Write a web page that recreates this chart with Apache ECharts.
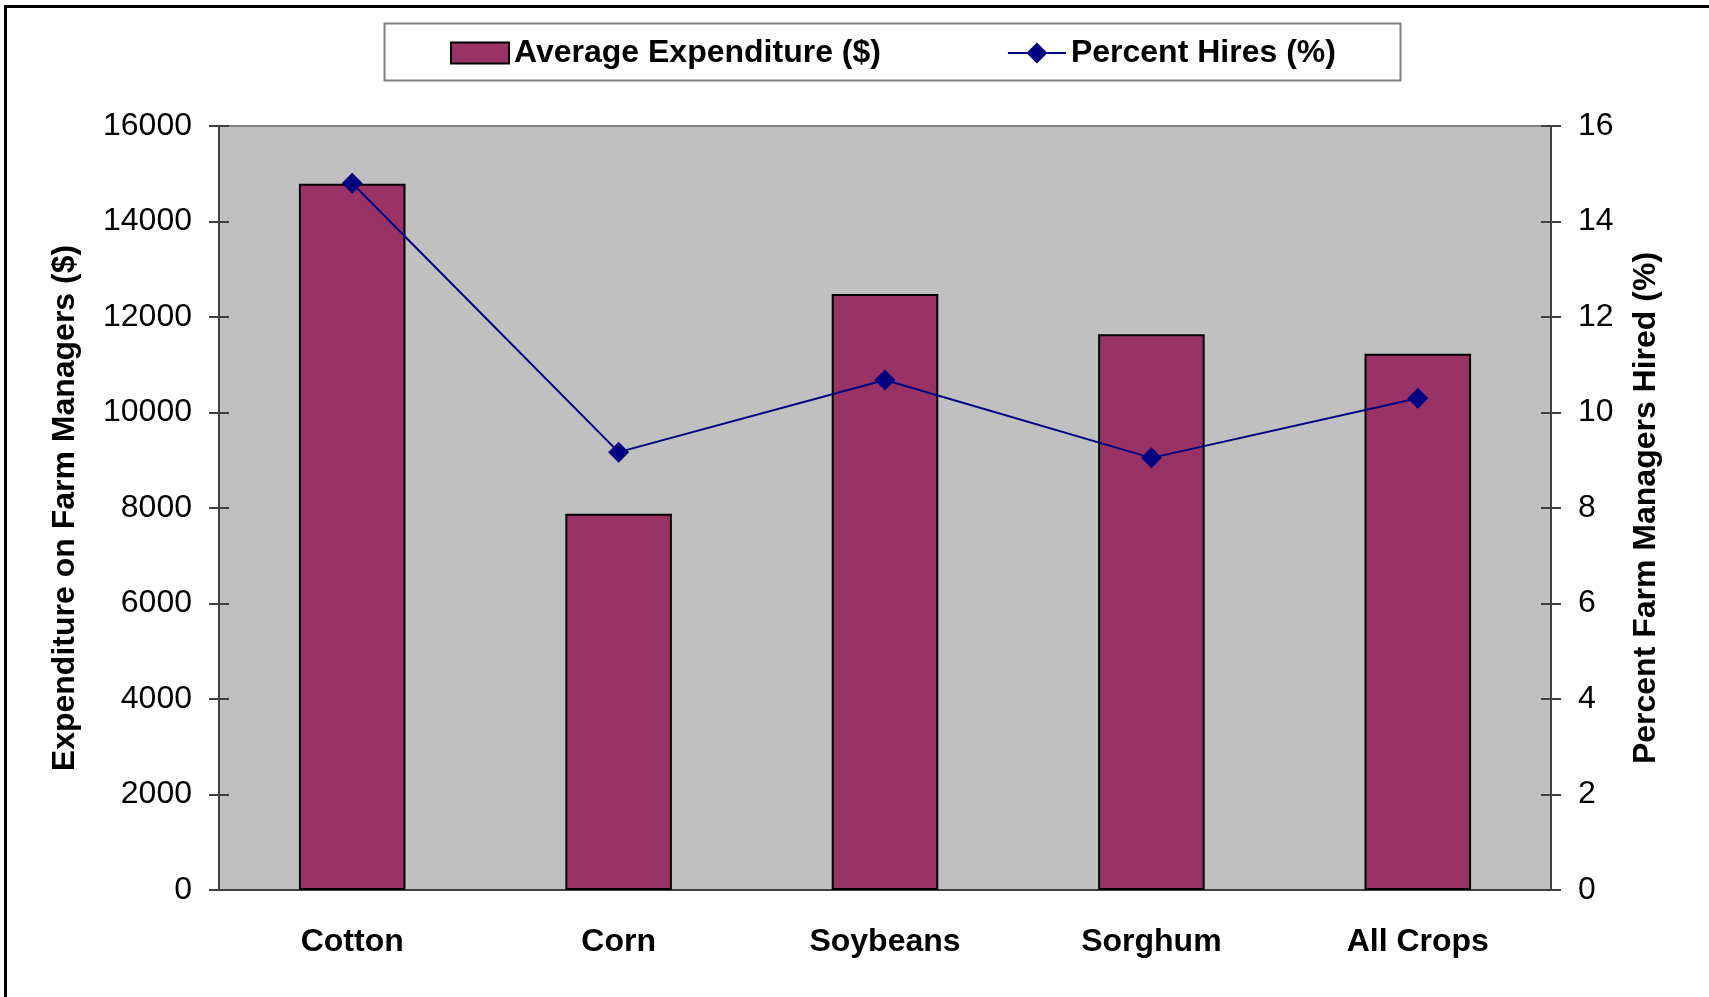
<!DOCTYPE html>
<html>

<head>
    <meta charset="utf-8">
    <title>Farm Managers</title>
    <script src="https://cdn.jsdelivr.net/npm/echarts@6.0.0/dist/echarts.min.js"></script>
    <style>
        body {
            margin: 0;
            background: #ffffff;
        }
    </style>
</head>

<body>
    <div id="main" style="width: 1709px;height:997px;"></div>

    <script type="text/javascript">
        // data
        const crops = ['Cotton', 'Corn', 'Soybeans', 'Sorghum', 'All Crops'];
        const avgExpenditure = [14790, 7880, 12480, 11640, 11230];
        const percentHires = [14.8, 9.17, 10.68, 9.05, 10.3];

        const font = '"Liberation Sans", Arial, sans-serif';
        const axisColor = '#404040';

        var myChart = echarts.init(document.getElementById('main'));

        // value axis helper: one with outside ticks + labels, one with inside ticks only
        function valueAxis(pos, max, interval, name, nameGap, inside) {
            return {
                type: 'value',
                position: pos,
                min: 0,
                max: max,
                interval: interval,
                name: inside ? '' : name,
                nameLocation: 'middle',
                nameGap: nameGap,
                nameTextStyle: { color: '#000', fontSize: 32, fontWeight: 'bold', fontFamily: font },
                splitLine: { show: false },
                axisLine: { show: !inside, lineStyle: { color: axisColor, width: 2 } },
                axisTick: { show: true, inside: inside, length: 10, lineStyle: { color: axisColor, width: 2 } },
                axisLabel: {
                    show: !inside, margin: 27, color: '#000', fontSize: 32, fontFamily: font,
                    padding: [4, 0, 0, 0],
                    formatter: v => String(v)
                }
            };
        }

        var option = {
            backgroundColor: '#ffffff',
            animation: false,
            graphic: {
                elements: [
                    {
                        // outer frame (right/bottom edges fall off the picture)
                        type: 'rect',
                        shape: { x: 5.5, y: 6.5, width: 2000, height: 2000 },
                        style: { fill: 'none', stroke: '#000', lineWidth: 3 },
                        silent: true
                    },
                    {
                        // legend box
                        type: 'rect',
                        shape: { x: 384.5, y: 23.5, width: 1016, height: 57 },
                        style: { fill: '#fff', stroke: '#808080', lineWidth: 2 },
                        silent: true
                    }
                ]
            },
            legend: {
                left: 450,
                top: 37,
                padding: 0,
                itemGap: 127,
                itemWidth: 58,
                itemHeight: 21,
                textStyle: { color: '#000', fontSize: 32, fontWeight: 'bold', fontFamily: font, lineHeight: 32 },
                data: [
                    { name: 'Average Expenditure ($)', icon: 'rect' },
                    {
                        name: 'Percent Hires (%)',
                        // line with a full-height diamond in the middle
                        icon: 'path://M0,9.5h58v2h-58z M29,0L39.5,10.5L29,21L18.5,10.5z',
                        itemStyle: { color: '#000080', borderWidth: 0 }
                    }
                ]
            },
            grid: {
                left: 219,
                right: 158,
                top: 126,
                bottom: 107,
                show: true,
                backgroundColor: '#C0C0C0',
                borderColor: '#808080',
                borderWidth: 2,
                containLabel: false
            },
            xAxis: [
                {
                    type: 'category',
                    position: 'bottom',
                    data: crops,
                    axisLine: { lineStyle: { color: axisColor, width: 2 } },
                    axisTick: { length: 10, lineStyle: { color: axisColor, width: 2 } },
                    axisLabel: { margin: 36, color: '#000', fontSize: 32, fontWeight: 'bold', fontFamily: font }
                },
                {
                    type: 'category',
                    position: 'bottom',
                    data: crops,
                    axisLine: { show: false },
                    axisTick: { inside: true, length: 10, lineStyle: { color: axisColor, width: 2 } },
                    axisLabel: { show: false }
                }
            ],
            yAxis: [
                valueAxis('left', 16000, 2000, 'Expenditure on Farm Managers ($)', 138, false),
                valueAxis('right', 16, 2, 'Percent Farm Managers Hired (%)', 79, false),
                valueAxis('left', 16000, 2000, '', 0, true),
                valueAxis('right', 16, 2, '', 0, true)
            ],
            series: [
                {
                    name: 'Average Expenditure ($)',
                    type: 'bar',
                    xAxisIndex: 0,
                    yAxisIndex: 0,
                    barWidth: '40%',
                    data: avgExpenditure,
                    itemStyle: { color: '#993366', borderColor: '#000', borderWidth: 2 }
                },
                {
                    name: 'Percent Hires (%)',
                    type: 'line',
                    xAxisIndex: 0,
                    yAxisIndex: 1,
                    data: percentHires,
                    symbol: 'diamond',
                    symbolSize: 21,
                    color: '#000080',
                    lineStyle: { color: '#000080', width: 2 },
                    itemStyle: { color: '#000080' }
                }
            ]
        };

        myChart.setOption(option);
    </script>
</body>

</html>
